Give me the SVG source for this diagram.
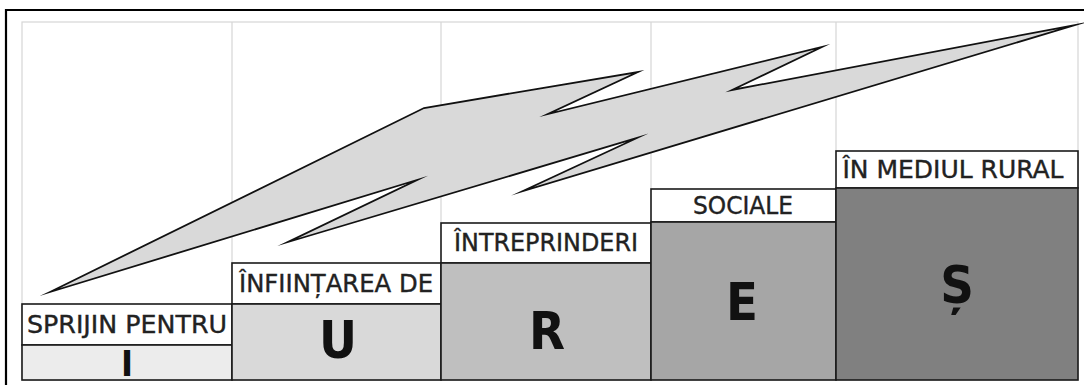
<svg xmlns="http://www.w3.org/2000/svg" width="1084" height="385" viewBox="0 0 1084 385">
<style>
.grid{fill:none;stroke:#d6d6d6;stroke-width:1.2}
.box{stroke:#1a1a1a;stroke-width:1.6}
.lbl{fill:#fff}
.cap{font-family:"DejaVu Sans Condensed","DejaVu Sans",Verdana,sans-serif;font-size:25px;fill:#222;stroke:#222;stroke-width:0.35;text-anchor:middle}
.big{font-family:"DejaVu Sans Condensed","DejaVu Sans",Verdana,sans-serif;font-weight:bold;font-size:52px;fill:#111;text-anchor:middle}
.bolt{fill:#d9d9d9;stroke:#111;stroke-width:1.8;stroke-linejoin:miter;stroke-miterlimit:20}
</style>
<rect x="0" y="0" width="1084" height="385" fill="#fff"/>
<g id="frame">
<path d="M6,385 V10 H1084" fill="none" stroke="#000" stroke-width="2.2"/>
<rect class="grid" x="22" y="22" width="1056" height="358"/>
<path class="grid" d="M232,22 V304 M441,22 V223 M651,22 V189 M836,22 V151"/>
</g>
<g id="step-i">
<rect class="box lbl" x="22" y="304" width="210" height="41"/>
<rect class="box" x="22" y="345" width="210" height="35" fill="#ececec"/>
<text class="cap" x="127" y="333" textLength="200" lengthAdjust="spacingAndGlyphs">SPRIJIN PENTRU</text>
<text class="big" x="127" y="376" style="font-size:36px">I</text>
</g>
<g id="step-u">
<rect class="box lbl" x="232" y="263" width="209" height="41"/>
<rect class="box" x="232" y="304" width="209" height="76" fill="#d9d9d9"/>
<text class="cap" x="336" y="292" textLength="194" lengthAdjust="spacingAndGlyphs">ÎNFIINȚAREA DE</text>
<text class="big" x="338" y="358">U</text>
</g>
<g id="step-r">
<rect class="box lbl" x="441" y="223" width="210" height="40"/>
<rect class="box" x="441" y="263" width="210" height="117" fill="#bfbfbf"/>
<text class="cap" x="546" y="251" textLength="184" lengthAdjust="spacingAndGlyphs">ÎNTREPRINDERI</text>
<text class="big" x="547" y="349">R</text>
</g>
<g id="step-e">
<rect class="box lbl" x="651" y="189" width="185" height="33"/>
<rect class="box" x="651" y="222" width="185" height="158" fill="#a6a6a6"/>
<text class="cap" x="743" y="214" textLength="100" lengthAdjust="spacingAndGlyphs">SOCIALE</text>
<text class="big" x="742" y="320">E</text>
</g>
<g id="step-s">
<rect class="box lbl" x="836" y="151" width="242" height="37"/>
<rect class="box" x="836" y="188" width="242" height="192" fill="#808080"/>
<text class="cap" x="953" y="178" textLength="221" lengthAdjust="spacingAndGlyphs">ÎN MEDIUL RURAL</text>
<text class="big" x="957" y="303">Ș</text>
</g>
<g id="bolt">
<polygon class="bolt" points="50,292 424,108 638,72 548,114 822,47 732,90 1075,25 523,191 637,138 288,242 417,180"/>
</g>
</svg>
